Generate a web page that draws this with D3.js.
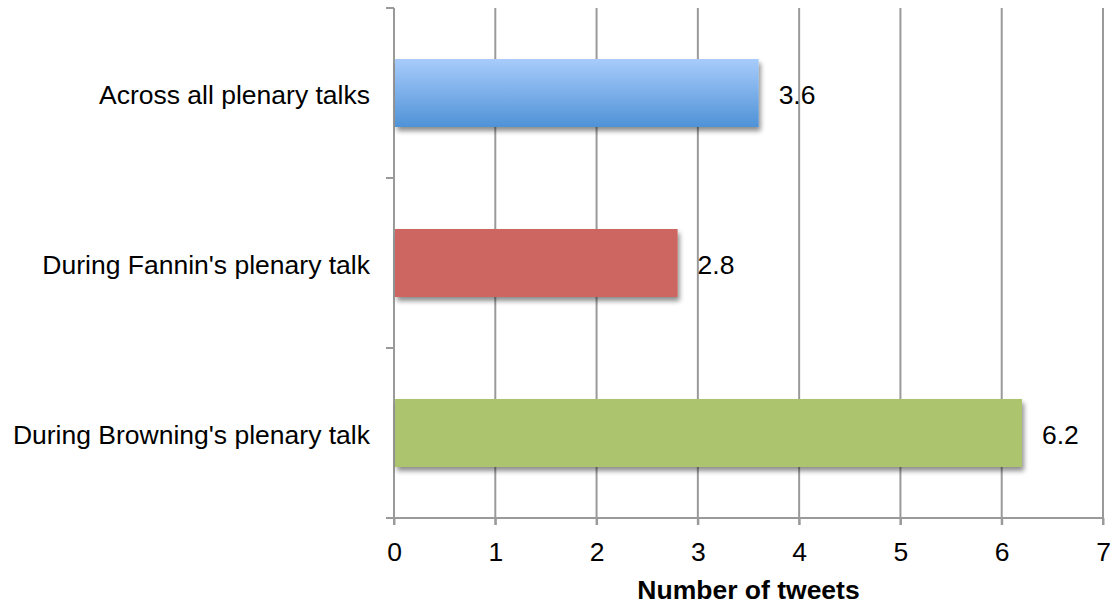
<!DOCTYPE html>
<html>
<head>
<meta charset="utf-8">
<script src="https://cdn.jsdelivr.net/npm/d3@7"></script>
<style>
  html, body { margin: 0; padding: 0; background: #fff; }
  svg { display: block; font-family: "Liberation Sans", Arial, sans-serif; }
</style>
</head>
<body>
<svg id="chart" width="1111" height="607"></svg>
<script>
// Average tweets per minute, by talk
const categories = ["Across all plenary talks", "During Fannin's plenary talk", "During Browning's plenary talk"];
const values = [3.6, 2.8, 6.2];
const xTicks = [0, 1, 2, 3, 4, 5, 6, 7];
const axisTitle = "Number of tweets";

const svg = d3.select("#chart");
const plotLeft = 394, plotRight = 1103, plotTop = 8, plotBottom = 518;
const fontSize = 26.5;

const x = d3.scaleLinear().domain([0, 7]).range([plotLeft, plotRight]);
const y = d3.scaleBand().domain(categories).range([plotTop, plotBottom])
  .paddingInner(0.6).paddingOuter(0.3);
const band = d3.scaleBand().domain(categories).range([plotTop, plotBottom]);

const defs = svg.append("defs");
const grad = defs.append("linearGradient").attr("id", "blueGrad")
  .attr("x1", 0).attr("y1", 0).attr("x2", 0).attr("y2", 1);
grad.append("stop").attr("offset", "0%").attr("stop-color", "#a8ccfb");
grad.append("stop").attr("offset", "100%").attr("stop-color", "#4f92d7");

const shadow = defs.append("filter").attr("id", "shadow")
  .attr("x", "-5%").attr("y", "-20%").attr("width", "115%").attr("height", "150%");
shadow.append("feGaussianBlur").attr("in", "SourceAlpha").attr("stdDeviation", 2.5).attr("result", "b");
shadow.append("feOffset").attr("in", "b").attr("dx", 2).attr("dy", 4).attr("result", "o");
shadow.append("feComponentTransfer").attr("in", "o").attr("result", "s")
  .append("feFuncA").attr("type", "linear").attr("slope", 0.45);
const merge = shadow.append("feMerge");
merge.append("feMergeNode").attr("in", "s");
merge.append("feMergeNode").attr("in", "SourceGraphic");

const fills = ["url(#blueGrad)", "#cd6660", "#abc46d"];
const gridColor = "#9a9a9a";

// Vertical gridlines
svg.append("g").selectAll("line").data(xTicks.slice(1)).join("line")
  .attr("x1", d => x(d)).attr("x2", d => x(d))
  .attr("y1", plotTop).attr("y2", plotBottom + 7)
  .attr("stroke", gridColor).attr("stroke-width", 2);

// Bottom axis
const xAxis = svg.append("g").attr("transform", `translate(0,${plotBottom})`)
  .call(d3.axisBottom(x).tickValues(xTicks).tickFormat(d3.format("d"))
    .tickSize(7).tickPadding(17).tickSizeOuter(0));
xAxis.select(".domain").attr("stroke", gridColor).attr("stroke-width", 2)
  .attr("d", `M${plotLeft - 8},0H${plotRight + 1}`);
xAxis.selectAll(".tick line").attr("stroke", gridColor).attr("stroke-width", 2);
xAxis.selectAll(".tick text").attr("fill", "#000").attr("font-size", fontSize)
  .attr("font-family", "Liberation Sans, Arial, sans-serif");

// Left axis with category boundary ticks
const yLine = svg.append("g");
yLine.append("line").attr("x1", plotLeft).attr("x2", plotLeft).attr("y1", plotTop).attr("y2", plotBottom + 7)
  .attr("stroke", gridColor).attr("stroke-width", 2);
const boundaries = categories.map(c => band(c)).concat([plotBottom]);
yLine.selectAll("line.tick").data(boundaries).join("line").attr("class", "tick")
  .attr("x1", plotLeft - 8).attr("x2", plotLeft).attr("y1", d => d).attr("y2", d => d)
  .attr("stroke", gridColor).attr("stroke-width", 2);

// Bars
svg.append("g").selectAll("rect").data(values).join("rect")
  .attr("x", x(0) + 1)
  .attr("y", (d, i) => y(categories[i]))
  .attr("width", d => x(d) - x(0) - 1)
  .attr("height", y.bandwidth())
  .attr("fill", (d, i) => fills[i])
  .attr("filter", "url(#shadow)");

// Value labels
svg.append("g").selectAll("text").data(values).join("text")
  .attr("x", d => x(d) + 20)
  .attr("y", (d, i) => y(categories[i]) + y.bandwidth() / 2)
  .attr("dy", "0.4em")
  .attr("font-size", fontSize)
  .attr("fill", "#000")
  .text(d => d.toFixed(1));

// Category labels
svg.append("g").selectAll("text").data(categories).join("text")
  .attr("x", 370)
  .attr("y", d => y(d) + y.bandwidth() / 2)
  .attr("dy", "0.4em")
  .attr("text-anchor", "end")
  .attr("font-size", fontSize)
  .attr("fill", "#000")
  .text(d => d);

// Axis title
svg.append("text")
  .attr("x", (plotLeft + plotRight) / 2).attr("y", 599)
  .attr("text-anchor", "middle")
  .attr("font-size", fontSize).attr("font-weight", "bold")
  .attr("fill", "#000")
  .text(axisTitle);
</script>
</body>
</html>
